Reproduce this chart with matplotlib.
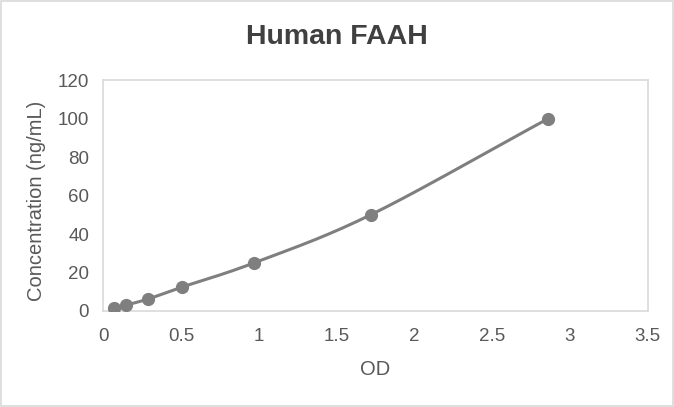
import matplotlib.pyplot as plt
import numpy as np

plt.rcParams['font.family'] = ['Liberation Sans', 'DejaVu Sans']

od = [0.07, 0.15, 0.29, 0.51, 0.97, 1.72, 2.86]
conc = [1.56, 3.12, 6.25, 12.5, 25, 50, 100]
x_ticks = [0, 0.5, 1, 1.5, 2, 2.5, 3, 3.5]
y_ticks = [0, 20, 40, 60, 80, 100, 120]


def smooth(x, y, n=30):
    # Catmull-Rom curve through the points, like Excel's smoothed line
    x = np.asarray(x, float)
    y = np.asarray(y, float)
    px = np.concatenate([[2 * x[0] - x[1]], x, [2 * x[-1] - x[-2]]])
    py = np.concatenate([[2 * y[0] - y[1]], y, [2 * y[-1] - y[-2]]])
    xs, ys = [], []
    t = np.linspace(0, 1, n)
    for i in range(1, len(px) - 2):
        for p, out in ((px, xs), (py, ys)):
            p0, p1, p2, p3 = p[i - 1], p[i], p[i + 1], p[i + 2]
            out.extend(0.5 * (2 * p1 + (-p0 + p2) * t
                              + (2 * p0 - 5 * p1 + 4 * p2 - p3) * t ** 2
                              + (-p0 + 3 * p1 - 3 * p2 + p3) * t ** 3))
    return xs, ys


fig = plt.figure(figsize=(6.74, 4.07), dpi=100)
ax = fig.add_axes([0.153, 0.236, 0.808, 0.567])

sx, sy = smooth(od, conc)
ax.plot(sx, sy, color='#7f7f7f', lw=2.2, zorder=2)
ax.plot(od, conc, 'o', color='#7f7f7f', ms=8.5, zorder=3)

ax.set_xlim(0, 3.5)
ax.set_ylim(0, 120)
ax.set_xticks(x_ticks)
ax.set_xticklabels([f'{v:g}' for v in x_ticks])
ax.set_yticks(y_ticks)
ax.tick_params(length=0, labelsize=13.5, colors='#595959')
ax.tick_params(axis='x', pad=12)
ax.tick_params(axis='y', pad=10)
for s in ax.spines.values():
    s.set_color('#d9d9d9')
    s.set_linewidth(1.2)

ax.set_xlabel('OD', fontsize=14.5, color='#595959', labelpad=11)
ax.set_ylabel('Concentration (ng/mL)', fontsize=14.5, color='#595959')
ax.yaxis.set_label_coords(-0.104, 0.475)
fig.text(0.5, 0.908, 'Human FAAH', ha='center', va='center', fontsize=20.5,
         fontweight='bold', color='#404040')

fig.add_artist(plt.Rectangle((0.001, 0.002), 0.997, 0.995, transform=fig.transFigure,
                             fill=False, edgecolor='#d9d9d9', lw=1.2))

fig.savefig('out.png', dpi=100)
